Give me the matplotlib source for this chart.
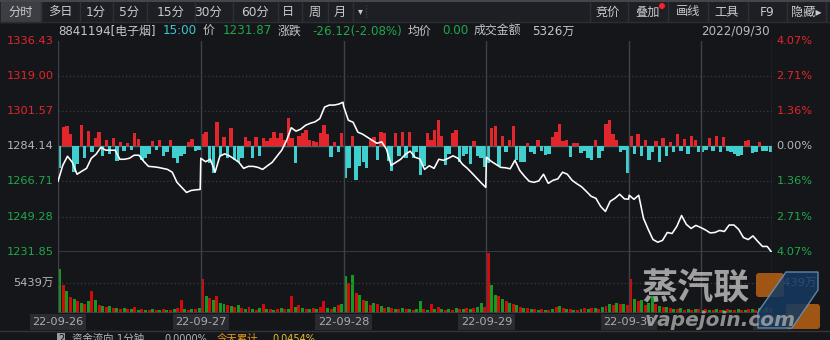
import matplotlib
matplotlib.use('Agg')
import matplotlib.pyplot as plt
import matplotlib.transforms as mtransforms
from matplotlib.patches import Rectangle, Polygon, FancyBboxPatch, Circle
import numpy as np

plt.rcParams['font.family'] = ['DejaVu Sans', 'Noto Sans CJK SC']

# colours
BG = '#15161a'
RED = '#e2262c'
GREEN = '#1fa84a'
CYAN = '#3fcfcf'
TXT = '#b4b6bb'
GRID = '#3b3d44'
FRAME = '#3e4148'

# ---- data ----
day_labels = ['22-09-26', '22-09-27', '22-09-28', '22-09-29', '22-09-30']
price_levels = [1336.43, 1319.00, 1301.57, 1284.14, 1266.71, 1249.28, 1231.85]
pct_labels = ['4.07%', '2.71%', '1.36%', '0.00%', '1.36%', '2.71%', '4.07%']
vol_mark = 5439  # 万

# index price, sampled every 8 minutes + close of each session
p_0926 = [1266.8, 1274.7, 1279.2, 1276.2, 1270.3, 1271.8, 1273.2, 1278.2, 1280.2, 1283.6,
          1282.2, 1282.2, 1282.2, 1277.7, 1277.7, 1278.2, 1279.7, 1279.7, 1276.7, 1274.2,
          1274.0, 1273.7, 1273.2, 1272.7, 1271.3, 1266.3, 1263.8, 1261.3, 1262.3, 1262.6, 1262.8]
p_0927 = [1278.2, 1276.5, 1277.7, 1271.3, 1279.2, 1280.4, 1279.4, 1277.9, 1276.2, 1273.2,
          1274.2, 1274.2, 1273.7, 1272.7, 1274.5, 1276.2, 1279.2, 1282.2, 1286.9, 1293.3,
          1291.6, 1292.6, 1294.5, 1295.5, 1296.2, 1297.8, 1303.5, 1304.5, 1304.5, 1305.0, 1305.9]
p_0928 = [1303.9, 1297.0, 1296.0, 1291.1, 1290.1, 1288.6, 1287.1, 1285.6, 1286.3, 1282.7,
          1274.7, 1276.2, 1277.7, 1280.2, 1281.7, 1278.7, 1277.9, 1272.7, 1274.5, 1273.2,
          1277.7, 1277.2, 1278.2, 1279.4, 1278.2, 1275.2, 1273.2, 1270.8, 1268.3, 1265.8, 1263.8]
p_0929 = [1278.7, 1276.7, 1275.2, 1273.7, 1273.5, 1273.0, 1277.2, 1272.2, 1269.3, 1266.8,
          1266.3, 1267.0, 1270.3, 1265.8, 1267.3, 1268.0, 1271.3, 1270.3, 1267.3, 1265.6,
          1264.1, 1261.8, 1259.4, 1258.4, 1254.4, 1251.9, 1256.9, 1258.4, 1260.4, 1258.1, 1257.99]
p_0930 = [1259.9, 1257.9, 1259.9, 1248.5, 1243.0, 1238.0, 1236.7, 1237.6, 1241.5, 1241.0,
          1244.5, 1249.9, 1245.5, 1243.5, 1245.0, 1244.0, 1242.8, 1241.3, 1241.5, 1242.5,
          1242.0, 1245.2, 1245.2, 1243.0, 1239.0, 1238.0, 1239.8, 1237.1, 1234.6, 1234.6, 1231.87]

# fund flow per 6 minutes (+ inflow red, - outflow cyan), arbitrary units
f_0926 = [-22, 19, 20, 12, -26, -18, 21, -12, 15, -6, 8, 14, -10, 6, -8, 8, -15, 4, -5, 3,
          -4, 13, 7, -14, -12, -8, 5, -4, 6, -10, -6, 6, -12, -17, -10, -8, 4, 7, -5, -4]
f_0927 = [12, 14, -17, -27, 24, -10, 9, -12, 18, -14, -16, -12, 9, 5, -12, 9, -10, 8, 5, 8,
          14, 8, 13, 6, 28, 8, -17, 10, 13, 16, 6, 5, 4, 13, 21, 12, -11, 4, -6, 13]
f_0928 = [-32, -22, 10, -34, -20, -16, -22, 6, 9, -14, 14, 13, -15, -25, 13, -10, 14, -12, 14, -12,
          -6, -29, -20, 13, 6, 16, 26, 10, -19, -8, 13, 16, -16, -10, -8, -18, 5, -10, -12, -21]
f_0929 = [-17, 18, 20, -20, 10, -6, 6, 20, -14, -16, -16, 3, -6, -8, 6, -5, -9, -8, 9, 14,
          22, 5, 6, -11, 3, 3, -7, -5, -12, -14, 6, -12, -5, 22, 26, 12, 6, -6, -4, -27]
f_0930 = [10, -8, 12, -10, 6, -14, -6, 5, -16, 8, -10, 4, -6, 12, -5, 7, -8, 10, 6, -6,
          -6, -4, 8, -5, 10, -6, 9, -5, -6, -8, -10, -9, 5, 6, -7, -6, 4, -5, -5, -6]

# turnover per 6 minutes in units of 181.3万 (+ up bar red, - down bar green)
VOL_UNIT = 181.3
v_0926 = [-44, 28, -22, 16, -14, 12, -10, 9, -12, 22, -13, 8, -7, 6, -7, 5, -5, 4, -5, 4,
          -4, 6, -3, 4, -3, 3, -4, 3, -3, 4, -3, 3, -4, 5, 13, -4, 3, -4, 4, -5]
v_0927 = [34, -17, 15, -13, 17, -10, -9, 8, -7, 6, -8, 5, -4, 6, -4, 3, -5, 9, -4, 4,
          -3, 4, -5, 4, -4, 17, -6, 8, -5, 4, -4, 5, -4, 6, 12, -5, 4, -6, 8, -9]
v_0928 = [-37, 30, -38, 20, -18, 13, -12, 8, -10, 9, -7, 5, -6, 5, -4, 4, -5, 4, -4, 3,
          -4, -12, 4, -3, 9, -4, 6, -4, 3, -4, 3, -5, 4, -4, 5, -4, 5, -6, -10, 6]
v_0929 = [60, -28, -18, 17, -14, 12, -10, 9, -8, 6, -5, 5, -4, 4, -3, 4, -3, 3, -4, 6,
          -7, 5, -4, 4, -3, 3, -4, 5, -4, 5, -5, 4, -6, 7, -9, 8, -10, 9, -9, 8]
v_0930 = [34, -14, 12, -13, 8, -10, -17, 9, -7, 6, -6, 5, -4, 4, -5, 3, -4, 3, -4, 4,
          -3, 4, -3, 3, -4, 3, -3, 4, -3, 3, -4, 3, -3, 4, -4, 3, -5, 4, -6, 5]

prices = [p_0926, p_0927, p_0928, p_0929, p_0930]
flows = np.concatenate([f_0926, f_0927, f_0928, f_0929, f_0930])
vols = np.concatenate([v_0926, v_0927, v_0928, v_0929, v_0930])

MIN_PER_DAY = 240
day_minutes = list(range(0, MIN_PER_DAY, 8)) + [MIN_PER_DAY - 1]
t_price = np.concatenate([np.array(day_minutes) + d * MIN_PER_DAY for d in range(5)])
price = np.concatenate(prices)
t_bar = np.arange(len(flows)) * 6 + 3

# ---- figure / layout in pixels ----
W, H = 830, 340
fig = plt.figure(figsize=(W / 100, H / 100), dpi=100, facecolor=BG)


def px_rect(x0, y0, x1, y1):
    return [x0 / W, 1 - y1 / H, (x1 - x0) / W, (y1 - y0) / H]


ax_bg = fig.add_axes([0, 0, 1, 1])
ax_bg.set_xlim(0, W)
ax_bg.set_ylim(H, 0)
ax_bg.axis('off')

PL, PR, PT, PB, VB = 58, 772, 40.5, 252, 312.5
ax_flow = fig.add_axes(px_rect(PL, PT, PR, PB))
ax_price = fig.add_axes(px_rect(PL, PT, PR, PB))
ax_vol = fig.add_axes(px_rect(PL, PB, PR, VB))
for a in (ax_flow, ax_price, ax_vol):
    a.set_xlim(0, 5 * MIN_PER_DAY)
    a.patch.set_visible(False)
    a.set_xticks([])
    a.set_yticks([])
    for s in a.spines.values():
        s.set_visible(False)

# flow bars
half = (PB - PT) / 2
ax_flow.set_ylim(-half, half)
ax_flow.axhline(0, color='#5c5f66', lw=1.0, zorder=0)
ax_flow.bar(t_bar, flows, width=5.6, color=[RED if v > 0 else CYAN for v in flows], linewidth=0)

# price panel
ax_price.set_ylim(price_levels[-1], price_levels[0])
for lv in price_levels[1:-1]:
    if lv != 1284.14:
        ax_price.axhline(lv, color=GRID, lw=0.9, ls=(0, (1, 2)), zorder=1)
ax_price.plot(t_price, price, color='white', lw=1.15, zorder=5)

# volume panel
ax_vol.set_ylim(0, (VB - PB) * VOL_UNIT)
ax_vol.axhline(vol_mark, color=GRID, lw=0.9, ls=(0, (1, 2)))
ax_vol.bar(t_bar, np.abs(vols) * VOL_UNIT, width=5.0,
           color=['#d40a0a' if v > 0 else '#149a1e' for v in vols], linewidth=0)

# frame and session separators
for a in (ax_price, ax_vol):
    for t in [0, 240, 480, 720, 960, 1080, 1200]:
        a.axvline(t, color=FRAME, lw=1.0, zorder=2)
ax_price.axhline(price_levels[-1], color=FRAME, lw=1.2)
ax_vol.axhline(0, color=FRAME, lw=1.2)

# y labels
ytf = ax_price.get_yaxis_transform()
cols = [RED, RED, RED, TXT, GREEN, GREEN, GREEN]
for lv, pct, c in zip(price_levels, pct_labels, cols):
    ax_price.text(-0.006, lv, f'{lv:.2f}', color=c, fontsize=8.2, ha='right', va='center',
                  transform=ytf, clip_on=False)
    ax_price.text(1.006, lv, pct, color=c, fontsize=8.2, ha='left', va='center',
                  transform=ytf, clip_on=False)
vtf = ax_vol.get_yaxis_transform()
ax_vol.text(-0.006, vol_mark, f'{vol_mark}万', color=TXT, fontsize=8.2, ha='right', va='center', transform=vtf)
ax_vol.text(1.006, vol_mark, f'{vol_mark}万', color=TXT, fontsize=8.2, ha='left', va='center', transform=vtf)

# date labels
dtf = mtransforms.blended_transform_factory(ax_vol.transData, ax_bg.transData)
for d, lab in enumerate(day_labels + ['15:00']):
    ax_bg.text(d * MIN_PER_DAY, 322, lab, color='#a9abb0', fontsize=8.2, ha='center', va='center',
               transform=dtf, bbox=dict(facecolor='#2a2b30', edgecolor='none', pad=1.8))

# ---- toolbar ----
ax_bg.add_patch(Rectangle((0, 0), W, 22, color='#1e1f24', zorder=0))
ax_bg.plot([0, W], [0.7, 0.7], color='#45464c', lw=1.5)
ax_bg.plot([0, W], [22, 22], color='#2c2d32', lw=1)
ax_bg.add_patch(Rectangle((1, 1.5), 40, 20, color='#3d3e43', zorder=1))
left_btns = [('分时', 21), ('多日', 60), ('1分', 96), ('5分', 129), ('15分', 171),
             ('30分', 208), ('60分', 255), ('日', 288), ('周', 315), ('月', 340)]
for lab, x in left_btns:
    ax_bg.text(x, 12, lab, color='#c9cacd', fontsize=8.8, ha='center', va='center', zorder=3)
for x in [41, 80, 113, 147, 195, 233, 278, 302, 328, 353]:
    ax_bg.plot([x, x], [2, 21], color='#2f3036', lw=1)
ax_bg.text(360, 11, '▾', color='#c9cacd', fontsize=7, ha='center', va='center')
ax_bg.plot([366, 366], [5, 18], color='#3a3b40', lw=1, ls=(0, (1, 1)))
right_btns = [('竞价', 608), ('叠加', 648), ('画线', 688), ('工具', 727), ('F9', 767), ('隐藏▸', 806)]
for lab, x in right_btns:
    ax_bg.text(x, 12, lab, color='#c9cacd', fontsize=8.8, ha='center', va='center')
for x in [590, 628, 668, 708, 748, 787, 826]:
    ax_bg.plot([x, x], [2, 21], color='#2f3036', lw=1)
ax_bg.add_patch(Circle((662, 6), 2.3, color='#ff2020', zorder=4))

# ---- header ----
hy = 31
hdr = [('8841194[电子烟]', 58, '#c3c5ca'), ('15:00', 163, '#3cc8d2'), ('价', 203, '#c3c5ca'),
       ('1231.87', 223, GREEN), ('涨跌', 278, '#c3c5ca'), ('-26.12(-2.08%)', 312, GREEN),
       ('均价', 408, '#c3c5ca'), ('0.00', 442, GREEN), ('成交金额', 474, '#c3c5ca'),
       ('5326万', 532, '#c3c5ca')]
for s, x, c in hdr:
    ax_bg.text(x, hy, s, color=c, fontsize=8.6, ha='left', va='center')
ax_bg.text(770, hy, '2022/09/30', color='#b8babf', fontsize=8.6, ha='right', va='center')

# ---- bottom strip (cut off by the lower edge, as in the screenshot) ----
ax_bg.plot([0, W], [331, 331], color='#34353a', lw=1)
ax_bg.text(61, 334, '2', color='#111', fontsize=7, ha='center', va='top',
           bbox=dict(facecolor='#9a9ba0', edgecolor='none', pad=0.8))
ax_bg.text(72, 334, '资金流向 1分钟', color=TXT, fontsize=7.5, ha='left', va='top')
ax_bg.text(164, 334, '0.0000%', color=TXT, fontsize=7, ha='left', va='top')
ax_bg.text(217, 334, '今天累计', color='#e59a1c', fontsize=7.5, ha='left', va='top')
ax_bg.text(272, 334, '0.0454%', color='#e8c22a', fontsize=7, ha='left', va='top')

# ---- watermark ----
ax_wm = fig.add_axes([0, 0, 1, 1], zorder=20)
ax_wm.set_xlim(0, W)
ax_wm.set_ylim(H, 0)
ax_wm.axis('off')
ax_wm.text(642, 290, '蒸汽联', color='#c4c4c4', alpha=0.8, fontsize=26, fontweight='bold',
           ha='left', va='center')
ax_wm.text(645, 321, 'vapejoin.com', color='#a4a4a4', alpha=0.85, fontsize=14.5,
           fontweight='bold', fontstyle='italic', ha='left', va='center')
ax_wm.add_patch(FancyBboxPatch((756, 273), 28, 24, boxstyle='round,pad=0,rounding_size=3',
                               facecolor='#a85a14', edgecolor='none', alpha=0.95))
ax_wm.add_patch(FancyBboxPatch((786, 304), 34, 25, boxstyle='round,pad=0,rounding_size=3',
                               facecolor='#a85a14', edgecolor='none', alpha=0.95))
ax_wm.add_patch(Polygon([(786, 272), (818, 272), (818, 290), (792, 328), (758, 328), (758, 312)],
                        closed=True, facecolor='#153a60', edgecolor='#6f95b8', lw=1, alpha=0.85))

fig.savefig('out.png', dpi=100, facecolor=BG)
